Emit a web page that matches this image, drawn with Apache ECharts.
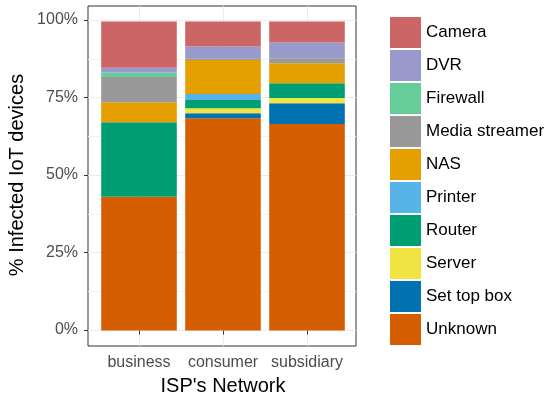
<!doctype html>
<html>
<head>
<meta charset="utf-8">
<title>Infected IoT devices by ISP network</title>
<script src="https://cdn.jsdelivr.net/npm/echarts@6/dist/echarts.min.js"></script>
<style>
  html, body { margin: 0; padding: 0; background: #fff; }
  #chart { width: 545px; height: 398px; }
</style>
</head>
<body>
<div id="chart"></div>
<script>
// categories on the x axis
var networks = ['business', 'consumer', 'subsidiary'];

// device types, top of legend first
var deviceTypes = ['Camera', 'DVR', 'Firewall', 'Media streamer', 'NAS',
                   'Printer', 'Router', 'Server', 'Set top box', 'Unknown'];

// share of infected devices (%), per network
var camera        = [15.0, 8.1, 6.8];
var dvr           = [1.5, 4.0, 5.1];
var firewall      = [1.5, 0, 0];
var mediaStreamer = [8.1, 0.4, 1.6];
var nas           = [6.5, 11.0, 6.5];
var printer       = [0, 1.9, 0];
var router        = [24.1, 2.7, 4.8];
var server        = [0, 1.6, 1.7];
var setTopBox     = [0, 1.6, 6.7];
var unknown       = [43.3, 68.7, 66.8];

var yTicks = [0, 25, 50, 75, 100];

var colors = {
    'Camera': '#CC6666',
    'DVR': '#9999CC',
    'Firewall': '#66CC99',
    'Media streamer': '#999999',
    'NAS': '#E69F00',
    'Printer': '#56B4E9',
    'Router': '#009E73',
    'Server': '#F0E442',
    'Set top box': '#0072B2',
    'Unknown': '#D55E00'
};

var values = {
    'Camera': camera,
    'DVR': dvr,
    'Firewall': firewall,
    'Media streamer': mediaStreamer,
    'NAS': nas,
    'Printer': printer,
    'Router': router,
    'Server': server,
    'Set top box': setTopBox,
    'Unknown': unknown
};

var font = 'Liberation Sans, Arial, sans-serif';

// ggplot stacks the last level at the bottom, so build series bottom-up
var series = deviceTypes.slice().reverse().map(function (name) {
    return {
        name: name,
        type: 'bar',
        stack: 'all',
        xAxisIndex: 2,
        yAxisIndex: 2,
        barWidth: '90%',
        clip: false,
        itemStyle: { color: colors[name] },
        data: values[name]
    };
});

var chart = echarts.init(document.getElementById('chart'));
chart.setOption({
    animation: false,
    color: deviceTypes.map(function (d) { return colors[d]; }),
    textStyle: { fontFamily: font },
    grid: [
        // panel border
        { left: 88, top: 6, width: 268, height: 340, show: true, outerBoundsMode: 'none',
          borderColor: '#333333', borderWidth: 1, backgroundColor: 'transparent' },
        // horizontal grid lines and y labels
        { left: 88, top: 20, width: 268, height: 310, outerBoundsMode: 'none' },
        // bars, category centres at the ends
        { left: 139, top: 6, width: 168, height: 340, outerBoundsMode: 'none' }
    ],
    xAxis: [
        { gridIndex: 0, type: 'value', show: false },
        { gridIndex: 1, type: 'value', show: false },
        {
            gridIndex: 2,
            type: 'category',
            data: networks,
            boundaryGap: false,
            axisLine: { show: false },
            axisTick: { show: true, length: 4, lineStyle: { color: '#333333' } },
            axisLabel: { interval: 0, margin: 9, fontSize: 16, color: '#4D4D4D', fontFamily: font },
            splitLine: { show: true, lineStyle: { color: '#EBEBEB', width: 1 } },
            name: "ISP's Network",
            nameLocation: 'middle',
            nameGap: 30,
            nameTextStyle: { fontSize: 20, color: '#000', fontFamily: font }
        }
    ],
    yAxis: [
        { gridIndex: 0, type: 'value', show: false },
        {
            gridIndex: 1,
            type: 'value',
            min: yTicks[0],
            max: yTicks[yTicks.length - 1],
            interval: 25,
            axisLine: { show: false },
            axisTick: { show: true, length: 4, lineStyle: { color: '#333333' } },
            axisLabel: {
                margin: 10, fontSize: 16, color: '#4D4D4D', fontFamily: font,
                formatter: function (v) { return v + '%'; }
            },
            splitLine: { show: true, lineStyle: { color: '#EBEBEB', width: 1 } },
            minorTick: { show: false, splitNumber: 2 },
            minorSplitLine: { show: true, lineStyle: { color: '#F2F2F2', width: 1 } },
            name: '% Infected IoT devices',
            nameLocation: 'middle',
            nameRotate: 90,
            nameGap: 61,
            nameTextStyle: { fontSize: 20, color: '#000', fontFamily: font }
        },
        { gridIndex: 2, type: 'value', min: -5, max: 105, show: false }
    ],
    legend: {
        orient: 'vertical',
        left: 390,
        top: 17,
        padding: 0,
        itemWidth: 31,
        itemHeight: 31,
        itemGap: 2,
        icon: 'rect',
        selectedMode: false,
        data: deviceTypes,
        textStyle: { fontSize: 17, color: '#000', fontFamily: font }
    },
    series: series
});
</script>
</body>
</html>
